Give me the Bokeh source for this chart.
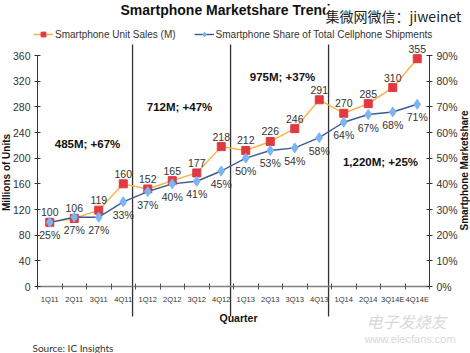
from math import pi
from bokeh.plotting import figure
from bokeh.models import (Range1d, LinearAxis, FixedTicker, Label, Legend, LegendItem,
                          PrintfTickFormatter, ColumnDataSource)
from bokeh.embed import file_html
from bokeh.resources import INLINE
from bokeh.core.properties import value

# ---------------- data ----------------
quarters = ["1Q11", "2Q11", "3Q11", "4Q11", "1Q12", "2Q12", "3Q12", "4Q12",
            "1Q13", "2Q13", "3Q13", "4Q13", "1Q14", "2Q14", "3Q14E", "4Q14E"]
unit_sales = [100, 106, 119, 160, 152, 165, 177, 218,
              212, 226, 246, 291, 270, 285, 310, 355]
share_pct = [25, 27, 27, 33, 37, 40, 41, 45,
             50, 53, 54, 58, 64, 67, 68, 71]
year_notes = ["485M; +67%", "712M; +47%", "975M; +37%", "1,220M; +25%"]
left_ticks = [0, 40, 80, 120, 160, 200, 240, 280, 320, 360]
right_ticks = [0, 10, 20, 30, 40, 50, 60, 70, 80, 90]

# ---------------- layout helpers (pixels of the 470x353 canvas) ----------------
W, H = 470, 353
PL_L, PL_R = 37, 429      # plot box left/right pixel
AX_Y = 286                # pixel row of value 0
PXU = (AX_Y - 55) / max(left_ticks)
XPU = (PL_R - PL_L) / len(quarters)

def px2x(px):
    return (px - PL_L) / XPU - 0.5

def px2y(py):
    return (AX_Y - py) / PXU

ratio = max(left_ticks) / max(right_ticks)
x_lo, x_hi = px2x(0), px2x(W)
y_lo, y_hi = px2y(H), px2y(0)

FONT = "Liberation Sans"
ORANGE = "#FBB03B"
RED = "#E2383F"
NAVY = "#3B5B94"
LBLUE = "#7DB4F2"

p = figure(width=W, height=H, x_range=Range1d(x_lo, x_hi),
           y_range=Range1d(y_lo, y_hi), output_backend="svg", toolbar_location=None,
           x_axis_location=None, y_axis_location=None,
           min_border=0, min_border_left=0, min_border_right=0,
           min_border_top=0, min_border_bottom=0)
p.title.visible = False
p.grid.visible = False
p.outline_line_color = None
p.background_fill_color = "white"
p.border_fill_color = "white"
p.extra_y_ranges = {"pct": Range1d(y_lo / ratio, y_hi / ratio)}

x_first, x_last = -0.5, len(quarters) - 0.5

# ---------------- axes ----------------
xs = list(range(len(quarters)))
xaxis = LinearAxis(ticker=FixedTicker(ticks=xs, minor_ticks=[i - 0.5 for i in range(len(quarters) + 1)]),
                   major_label_overrides={i: q for i, q in enumerate(quarters)},
                   fixed_location=0, bounds=(x_first, x_last),
                   major_tick_in=0, major_tick_out=0, minor_tick_in=3, minor_tick_out=3,
                   axis_line_color="#7f7f7f", axis_line_width=1.5, minor_tick_line_color="#555555",
                   major_label_text_font=FONT, major_label_text_font_size="7.5px",
                   major_label_text_color="#333333", major_label_standoff=5)
p.add_layout(xaxis, "below")

laxis = LinearAxis(ticker=FixedTicker(ticks=left_ticks), bounds=(0, max(left_ticks)),
                   fixed_location=x_first,
                   major_tick_in=3, major_tick_out=3, minor_tick_line_color=None,
                   axis_line_color="#333333", major_tick_line_color="#333333",
                   major_label_text_font=FONT, major_label_text_font_size="10.5px",
                   major_label_text_color="#333333", major_label_standoff=4)
p.add_layout(laxis, "left")

raxis = LinearAxis(y_range_name="pct", ticker=FixedTicker(ticks=right_ticks), bounds=(0, max(right_ticks)),
                   fixed_location=x_last,
                   formatter=PrintfTickFormatter(format="%d%%"),
                   major_tick_in=3, major_tick_out=3, minor_tick_line_color=None,
                   axis_line_color="#333333", major_tick_line_color="#333333",
                   major_label_text_font=FONT, major_label_text_font_size="10.5px",
                   major_label_text_color="#333333", major_label_standoff=4)
p.add_layout(raxis, "right")

# ---------------- year separators ----------------
bounds_idx = [i for i in range(1, len(quarters)) if quarters[i][2:4] != quarters[i - 1][2:4]]
sep_x = [i - 0.5 - 0.12 for i in bounds_idx]
p.segment(x0=sep_x, x1=sep_x, y0=[px2y(316)] * len(sep_x), y1=[px2y(44)] * len(sep_x),
          line_color="#333333", line_width=1.3)

# ---------------- series ----------------
src = ColumnDataSource(dict(x=xs, sales=unit_sales, share=share_pct,
                            sales_lbl=[str(v) for v in unit_sales],
                            share_lbl=[f"{v}%" for v in share_pct]))

sl = p.line("x", "sales", source=src, line_color=ORANGE, line_width=1.4)
sm = p.scatter("x", "sales", source=src, marker="square", size=8,
               fill_color=RED, line_color=RED)
bl = p.line("x", "share", source=src, y_range_name="pct", line_color=NAVY, line_width=1.4)
bm = p.scatter("x", "share", source=src, y_range_name="pct", marker="diamond", size=10,
               fill_color=LBLUE, line_color=LBLUE)

p.text("x", "sales", text="sales_lbl", source=src, text_align="center", text_baseline="bottom",
       y_offset=-6, text_font=value(FONT), text_font_size="10.5px", text_color="#333333")
p.text("x", "share", text="share_lbl", source=src, y_range_name="pct", text_align="center",
       text_baseline="top", y_offset=7, text_font=value(FONT), text_font_size="10.5px",
       text_color="#333333")

# ---------------- year notes ----------------
note_px = [(87, 143), (179, 106), (282, 76), (380, 161)]
for txt, (nx, ny) in zip(year_notes, note_px):
    p.add_layout(Label(x=px2x(nx), y=px2y(ny), text=txt, text_align="center",
                       text_baseline="middle", text_font=FONT, text_font_size="11.5px",
                       text_font_style="bold", text_color="#111111"))

# ---------------- legend ----------------
legend = Legend(items=[LegendItem(label="Smartphone Unit Sales (M)", renderers=[sl, sm]),
                       LegendItem(label="Smartphone Share of Total Cellphone Shipments", renderers=[bl, bm])],
                orientation="horizontal", location=(33, H - 40), padding=2, margin=0,
                spacing=18, glyph_width=20, glyph_height=12, label_standoff=2,
                label_text_font=FONT, label_text_font_size="10px", label_text_color="#333333",
                border_line_color=None, background_fill_alpha=0)
p.add_layout(legend, "center")

# ---------------- titles and texts ----------------
p.add_layout(Label(x=px2x(120), y=px2y(1), text="Smartphone Marketshare Trends",
                   text_baseline="top", text_font=FONT, text_font_size="14px",
                   text_font_style="bold", text_color="#111111"))
p.add_layout(Label(x=px2x(325), y=px2y(15), text="集微网微信：jiweinet", text_baseline="middle",
                   text_font="Noto Sans CJK SC", text_font_size="14px", text_color="#222222",
                   background_fill_color="white"))
p.add_layout(Label(x=px2x(6), y=px2y(172), text="Millions of Units", angle=pi / 2,
                   text_align="center", text_baseline="middle", text_font=FONT,
                   text_font_size="10px", text_font_style="bold", text_color="#111111"))
p.add_layout(Label(x=px2x(464), y=px2y(170), text="Smartphone Marketshare", angle=pi / 2,
                   text_align="center", text_baseline="middle", text_font=FONT,
                   text_font_size="10px", text_font_style="bold", text_color="#111111"))
p.add_layout(Label(x=px2x(238), y=px2y(317), text="Quarter", text_align="center",
                   text_baseline="middle", text_font=FONT, text_font_size="10.5px",
                   text_font_style="bold", text_color="#111111"))
p.add_layout(Label(x=px2x(32), y=px2y(347), text="Source:  IC Insights", text_baseline="middle",
                   text_font="Lato", text_font_size="10px", text_color="#333333"))
p.add_layout(Label(x=px2x(366), y=px2y(320), text="电子发烧友", text_baseline="middle",
                   text_font="Noto Sans CJK SC", text_font_size="16px", text_color="#d9d9d9",
                   text_font_style="italic"))
p.add_layout(Label(x=px2x(364), y=px2y(338), text="www.elecfans.com", text_baseline="middle",
                   text_font=FONT, text_font_size="11px", text_color="#d9d9d9"))

open("out.html", "w").write(file_html(p, INLINE))
